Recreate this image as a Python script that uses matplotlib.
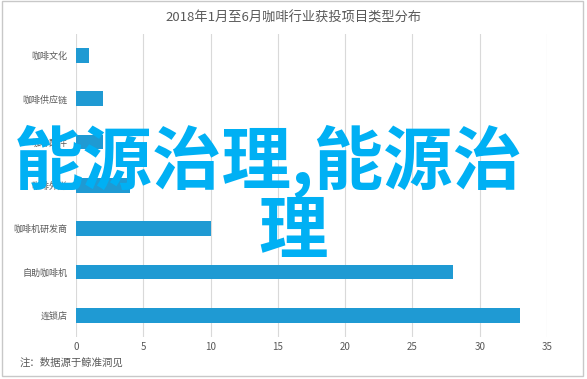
import matplotlib.pyplot as plt
from matplotlib.patches import Rectangle

plt.rcParams['font.family'] = ['Noto Sans CJK SC', 'DejaVu Sans']

categories = ['咖啡文化', '咖啡供应链', '咖啡配件', '咖啡外送', '咖啡机研发商', '自助咖啡机', '连锁店']
values = [1, 2, 2, 4, 10, 28, 33]
ticks = [0, 5, 10, 15, 20, 25, 30, 35]

fig = plt.figure(figsize=(5.87, 3.79), dpi=100)
ax = fig.add_axes([0.1295, 0.111, 0.8025, 0.800])

y = list(range(len(categories)))
ax.barh(y, values, height=0.34, color='#1f9ad3', zorder=2)
ax.set_yticks(y)
ax.set_yticklabels(categories, fontsize=6.5, color='#595959')
ax.set_ylim(len(categories) - 0.5, -0.5)
ax.set_xlim(0, 35)
ax.set_xticks(ticks)
ax.set_xticklabels([str(t) for t in ticks], fontsize=7, color='#595959')
ax.grid(axis='x', color='#d9d9d9', linewidth=0.8, zorder=0)
for s in ax.spines.values():
    s.set_visible(False)
ax.tick_params(length=0, pad=6)
ax.tick_params(axis='x', pad=4)

fig.text(0.5, 0.953, '2018年1月至6月咖啡行业获投项目类型分布', ha='center', va='center',
         fontsize=9.5, color='#595959')
fig.text(0.033, 0.042, '注：数据源于鲸准洞见', ha='left', va='center', fontsize=7.5, color='#595959')

# overlay text
fig.text(0.457, 1 - 162 / 379, '能源治理,能源治', ha='center', va='center',
         fontsize=50, color='#00b0f4', fontweight='bold')
fig.text(0.500, 1 - 233 / 379, '理', ha='center', va='center',
         fontsize=50, color='#00b0f4', fontweight='bold')

fig.patches.append(Rectangle((0.003, 0.008), 0.991, 0.99, transform=fig.transFigure,
                             fill=False, edgecolor='#c8c8c8', linewidth=1))

fig.savefig('out.png', dpi=100)
